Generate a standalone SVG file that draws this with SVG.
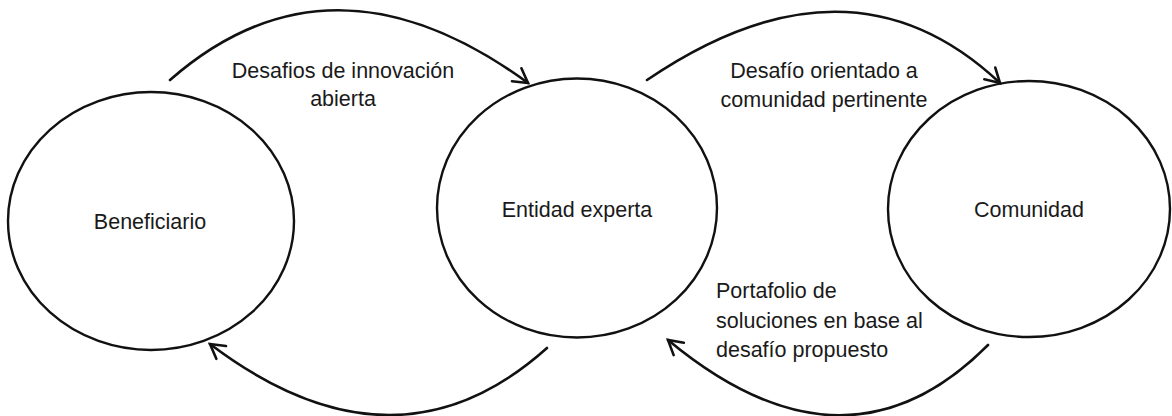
<svg xmlns="http://www.w3.org/2000/svg" width="1172" height="416" viewBox="0 0 1172 416">
  <style>
    .node { fill: #ffffff; stroke: #111111; stroke-width: 2.4; }
    .lbl { font-family: "Liberation Sans", Arial, sans-serif; font-size: 21.5px; fill: #1a1a1a; }
    .mid { text-anchor: middle; }
    .conn { fill: none; stroke: #111111; stroke-width: 2.6; stroke-linecap: round; }
  </style>
  <defs>
    <marker id="arrow" markerUnits="userSpaceOnUse" markerWidth="24" markerHeight="24" refX="0" refY="0" viewBox="-18 -12 24 24" orient="auto">
      <path d="M -14,-8 L 0,0 L -14,8" fill="none" stroke="#111111" stroke-width="2.6" stroke-linecap="round" stroke-linejoin="miter"/>
    </marker>
  </defs>
  <rect width="1172" height="416" fill="#ffffff"/>

  <g id="beneficiario">
    <ellipse class="node" cx="151" cy="221" rx="143" ry="129"/>
    <text class="lbl mid" x="150" y="229">Beneficiario</text>
  </g>

  <g id="entidad-experta">
    <ellipse class="node" cx="577" cy="208" rx="140" ry="129.5"/>
    <text class="lbl mid" x="577" y="217">Entidad experta</text>
  </g>

  <g id="comunidad">
    <ellipse class="node" cx="1029" cy="209" rx="141" ry="128"/>
    <text class="lbl mid" x="1029" y="217">Comunidad</text>
  </g>

  <g id="connectors">
    <path class="conn" d="M170,80 Q331,-61 528,83" marker-end="url(#arrow)"/>
    <path class="conn" d="M647,80 Q850,-58 1000,83" marker-end="url(#arrow)"/>
    <path class="conn" d="M547,348 Q395,484 210,344" marker-end="url(#arrow)"/>
    <path class="conn" d="M988,345 Q846,488 668,340" marker-end="url(#arrow)"/>
  </g>

  <g id="labels">
    <text class="lbl mid" x="343" y="78">Desafios de innovación</text>
    <text class="lbl mid" x="343" y="106">abierta</text>
    <text class="lbl mid" x="824" y="78">Desafío orientado a</text>
    <text class="lbl mid" x="824" y="107">comunidad pertinente</text>
    <text class="lbl" x="716" y="298">Portafolio de</text>
    <text class="lbl" x="716" y="328">soluciones en base al</text>
    <text class="lbl" x="716" y="357">desafío propuesto</text>
  </g>
</svg>
